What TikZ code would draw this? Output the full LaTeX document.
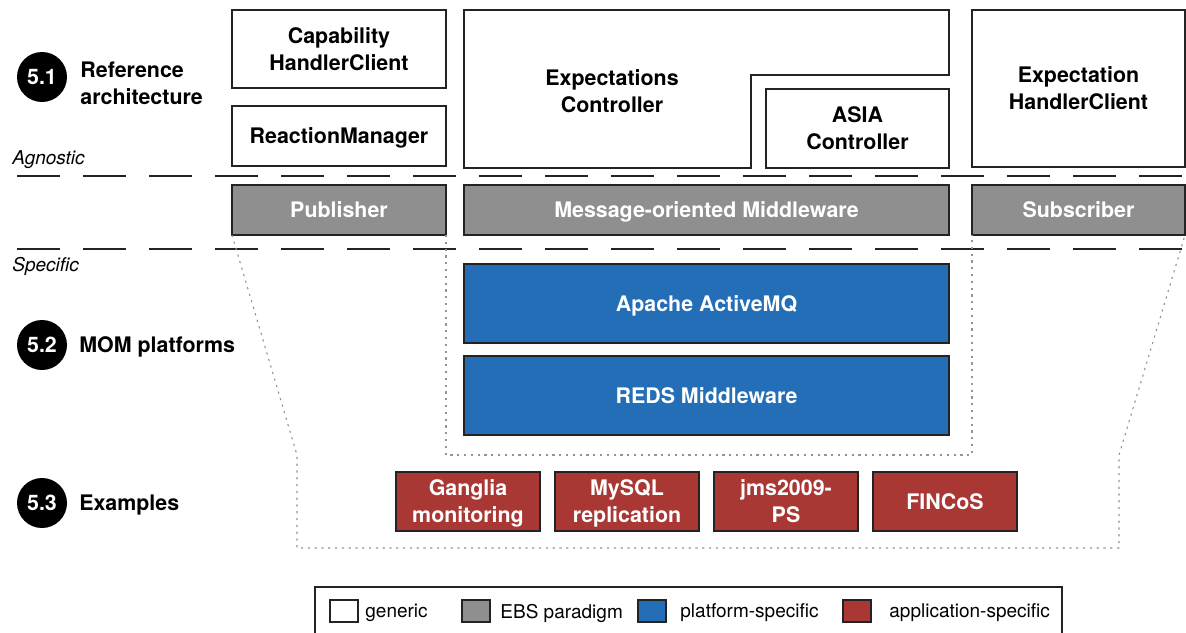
\documentclass[tikz,border=0pt]{standalone}
\usepackage{fontspec}
\setmainfont{TeX Gyre Heros}
\usepackage{tikz}
\usetikzlibrary{positioning}
\definecolor{EbsGris}{RGB}{143,143,143}
\definecolor{PlatAzul}{RGB}{35,110,183}
\definecolor{AppRojo}{RGB}{169,55,51}
\definecolor{Linea}{RGB}{35,35,35}

\begin{document}
\begin{tikzpicture}[
  x=0.5pt, y=-0.5pt,
  box/.style={
    draw=Linea, line width=0.6pt,
    fill=white, align=center,
    font=\fontsize{10.7}{13.5}\selectfont\bfseries,
    inner sep=0pt, outer sep=0pt, text depth=0pt,
    minimum width=107pt
  },
  ebs/.style={box, fill=EbsGris, text=white, minimum height=25pt},
  plat/.style={box, fill=PlatAzul, text=white,
    minimum width=242.5pt, minimum height=39.5pt},
  app/.style={box, fill=AppRojo, text=white,
    minimum width=72pt, minimum height=29.5pt},
  num/.style={circle, fill=black, text=white, minimum size=25pt,
    inner sep=0pt, outer sep=0pt, text depth=0pt,
    font=\fontsize{10.7}{13.5}\selectfont\bfseries},
  part/.style={anchor=west, align=left, inner sep=0pt, text depth=0pt,
    font=\fontsize{10.7}{13.5}\selectfont\bfseries},
  side/.style={anchor=west, inner sep=0pt,
    font=\fontsize{9.5}{11}\selectfont\itshape},
  layer/.style={Linea, line width=0.65pt, dash pattern=on 21.5pt off 11.5pt},
  zone/.style={gray!85, line width=0.55pt, dash pattern=on 1.1pt off 2.3pt},
  swatch/.style={draw=Linea, line width=0.6pt, minimum width=14pt,
    minimum height=11pt, inner sep=0pt, outer sep=0pt},
  key/.style={anchor=west, inner sep=0pt, text depth=0pt,
    font=\fontsize{9.5}{11}\selectfont}
]
\useasboundingbox (0,0) rectangle (1186,632);

% section markers
\node[num] (n51) at (42,77) {5.1};
\node[part] (refarch) at (80,83) {Reference\\architecture};
\node[num] (n52) at (42,345) {5.2};
\node[part, right=6pt of n52] (mom) {MOM platforms};
\node[num] (n53) at (42,503) {5.3};
\node[part, right=6pt of n53] (examples) {Examples};

% agnostic / specific split
\node[side] (agn) at (12,160) {Agnostic};
\node[side] (spec) at (12,266) {Specific};
\draw[layer] (17,176) -- (1186,176);
\draw[layer] (17,249) -- (1186,249);

% generic components
\node[box, minimum height=39pt] (caphc) at (339,49) {Capability\\HandlerClient};
\node[box, minimum height=30pt] (reactmgr) at (339,136) {ReactionManager};
\draw[Linea, line width=0.6pt, fill=white]
  (464,10) -- (949,10) -- (949,75) -- (751,75) -- (751,168) -- (464,168) -- cycle;
\node[align=center, inner sep=0pt, text depth=0pt,
  font=\fontsize{10.7}{13.5}\selectfont\bfseries]
  (expctrl) at (612,91) {Expectations\\Controller};
\node[box, minimum width=91.5pt, minimum height=39.5pt] (asia) at (857.5,128.5)
  {ASIA\\Controller};
\node[box, minimum width=106.5pt, minimum height=78.5pt] (exphc) at (1078.5,88.5)
  {Expectation\\HandlerClient};

% EBS paradigm
\node[ebs] (pub) at (339,210) {Publisher};
\node[ebs, minimum width=242.5pt] (mom) at (706.5,210) {Message-oriented Middleware};
\node[ebs, minimum width=106.5pt] (sub) at (1078.5,210) {Subscriber};

% platforms
\node[plat] (amq) at (706.5,303.5) {Apache ActiveMQ};
\node[plat, below=6.5pt of amq] (reds) {REDS Middleware};

% examples
\node[app] (gang) at (468,501.5) {Ganglia\\monitoring};
\node[app, right=7.5pt of gang] (mysql) {MySQL\\replication};
\node[app, right=7.5pt of mysql] (jms) {jms2009-\\PS};
\node[app, right=7.5pt of jms] (fincos) {FINCoS};

% scopes
\draw[zone] (pub.south west) -- (297,455) -- (297,548) -- (1119,548)
  -- (1119,455) -- (sub.south east);
\draw[zone] (pub.south east) -- (446,455) -- (972,455) -- (sub.south west);

% legend
\draw[Linea, line width=0.8pt] (315,587) rectangle (1062,650);
\node[swatch, fill=white] (kgen) at (344,611) {};
\node[key] (lgen) at (365,611) {generic};
\node[swatch, fill=EbsGris] (kebs) at (476,611) {};
\node[key] (lebs) at (500,611) {EBS paradigm};
\node[swatch, fill=PlatAzul] (kplat) at (652,611) {};
\node[key] (lplat) at (680,611) {platform-specific};
\node[swatch, fill=AppRojo] (kapp) at (857,611) {};
\node[key] (lapp) at (889,611) {application-specific};

\end{tikzpicture}
\end{document}
